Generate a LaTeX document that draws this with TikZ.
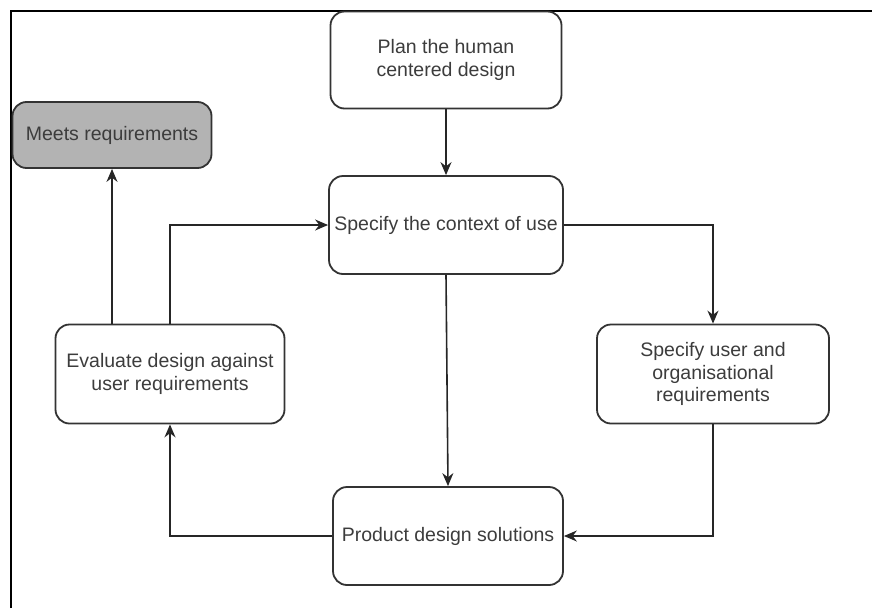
\documentclass[tikz,border=0pt]{standalone}
\usepackage{fontspec}
\setmainfont{Liberation Sans}
\usepackage{tikz}
\usetikzlibrary{arrows.meta, positioning}
\definecolor{boxline}{HTML}{333333}
\definecolor{boxtext}{HTML}{3C3C3C}
\definecolor{donegray}{HTML}{B3B3B3}
\tikzset{
    stepbox/.style={draw=boxline, line width=1.8pt, rounded corners=14pt,
        align=center, inner sep=0pt, text=boxtext,
        minimum width=231pt, minimum height=97pt,
        font=\fontsize{19.5}{22.5}\selectfont},
    flow/.style={draw=black!85, line width=1.6pt, -{Stealth[length=13pt, width=11pt]}},
}
\begin{document}
\begin{tikzpicture}[x=1pt, y=-1pt]
    \useasboundingbox (0,0) rectangle (872,608);
    % frame, only top and left visible
    \draw[line width=1.5pt] (11,608) -- (11,11) -- (872,11);

    \node[stepbox] (plan) at (446,60) {Plan the human\\centered design};
    \node[stepbox, minimum width=199pt, minimum height=66pt, fill=donegray] (meets) at (112,135) {Meets requirements};
    \node[stepbox, minimum width=234pt, minimum height=98pt] (context) at (446,225) {Specify the context of use};
    \node[stepbox, minimum width=229pt, minimum height=99pt] (evaluate) at (170,374) {Evaluate design against\\user requirements};
    \node[stepbox, minimum width=232pt, minimum height=99pt] (userreq) at (713,374) {Specify user and\\organisational\\requirements};
    \node[stepbox, minimum width=230pt, minimum height=98pt] (product) at (448,536) {Product design solutions};

    \draw[flow] (plan) -- (context);
    \draw[flow] (context.east) -| (userreq.north);
    \draw[flow] (userreq.south) |- (product.east);
    \draw[flow] (context.south) -- (product.north);
    \draw[flow] (product.west) -| (evaluate.south);
    \draw[flow] (evaluate.north) |- (context.west);
    \draw[flow] (evaluate.north -| meets.south) -- (meets.south);
\end{tikzpicture}
\end{document}
